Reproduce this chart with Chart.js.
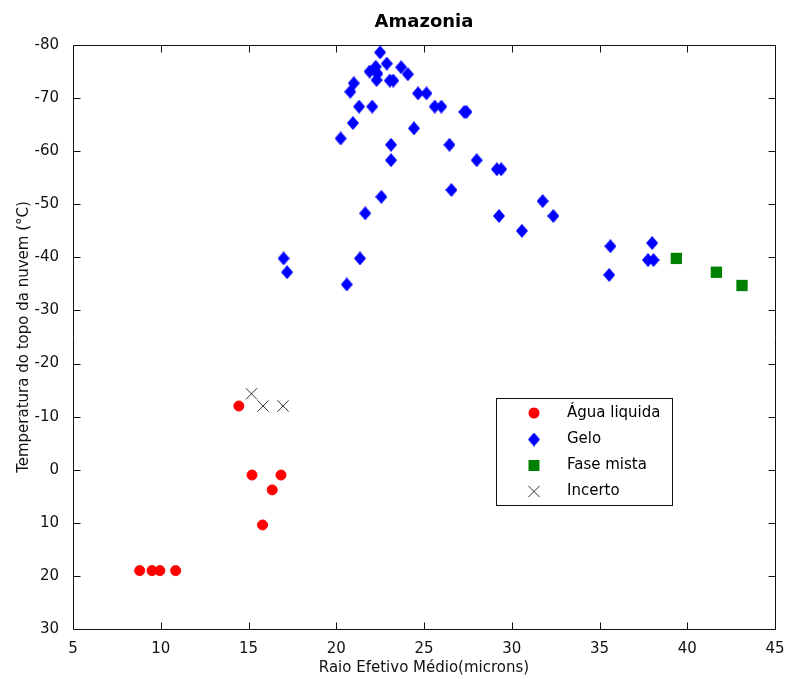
<!DOCTYPE html>
<html>
<head>
<meta charset="utf-8">
<title>Amazonia</title>
<script src="https://cdn.jsdelivr.net/npm/chart.js@4.4.1/dist/chart.umd.min.js"></script>
<style>
  html, body { margin: 0; padding: 0; background: #fff; }
  canvas { display: block; }
</style>
</head>
<body>
<canvas id="chart" width="788" height="679"></canvas>
<script>
// Raio efetivo médio (microns) e temperatura do topo da nuvem (°C), por fase
const aguaRaio = [8.8, 9.5, 9.95, 10.85, 14.45, 15.2, 16.85, 16.35, 15.8];
const aguaTemp = [19, 19, 19, 19, -12, 1, 1, 3.8, 10.4];

const geloRaio = [17.0, 17.2, 20.6, 21.35, 20.25, 20.95, 20.8, 21.0, 21.3, 22.05,
  21.9, 22.25, 22.35, 22.3, 22.5, 22.88, 23.05, 23.25, 23.7, 24.08,
  24.66, 25.14, 25.61, 25.99, 27.3, 27.42, 24.43, 23.12, 23.12, 26.45,
  28.0, 29.15, 29.4, 22.57, 21.65, 26.56, 29.27, 30.58, 31.76, 32.37,
  35.62, 35.55, 38.0, 37.76, 38.08];
const geloTemp = [-39.8, -37.2, -34.9, -39.8, -62.4, -65.3, -71.2, -72.8, -68.4, -68.4,
  -75.0, -75.9, -74.6, -73.4, -78.6, -76.5, -73.3, -73.3, -75.8, -74.5,
  -70.9, -70.9, -68.4, -68.4, -67.4, -67.4, -64.3, -61.2, -58.3, -61.2,
  -58.3, -56.6, -56.6, -51.4, -48.3, -52.7, -47.8, -45.0, -50.6, -47.8,
  -42.1, -36.7, -42.7, -39.5, -39.5];

const mistaRaio = [39.38, 41.66, 43.12];
const mistaTemp = [-39.8, -37.2, -34.7];

const incertoRaio = [15.17, 15.83, 16.97];
const incertoTemp = [-14.3, -12.0, -12.0];

const xTicks = [5, 10, 15, 20, 25, 30, 35, 40, 45];
const yTicks = [-80, -70, -60, -50, -40, -30, -20, -10, 0, 10, 20, 30];

const TITLE = 'Amazonia';
const FONT = 'DejaVu Sans';
const TICK_LEN = 7;

function toPoints(xs, ys) {
  return xs.map((v, i) => ({ x: v, y: ys[i] }));
}

// diamond marker, a bit taller than wide
function diamondMarker(w, h, color) {
  const c = document.createElement('canvas');
  c.width = w;
  c.height = h;
  const g = c.getContext('2d');
  g.fillStyle = color;
  g.beginPath();
  g.moveTo(w / 2, 0);
  g.lineTo(w, h / 2);
  g.lineTo(w / 2, h);
  g.lineTo(0, h / 2);
  g.closePath();
  g.fill();
  return c;
}

const diamond = diamondMarker(12, 14, '#0000ff');

const series = [
  { label: 'Água liquida', data: toPoints(aguaRaio, aguaTemp), pointStyle: 'circle',
    pointRadius: 5, pointBorderWidth: 1, pointBackgroundColor: '#ff0000', pointBorderColor: '#ff0000' },
  { label: 'Gelo', data: toPoints(geloRaio, geloTemp), pointStyle: diamond,
    pointRadius: 6, pointBackgroundColor: '#0000ff', pointBorderColor: '#0000ff' },
  { label: 'Fase mista', data: toPoints(mistaRaio, mistaTemp), pointStyle: 'rect',
    pointRadius: 8, pointBorderWidth: 0, pointBackgroundColor: '#008000', pointBorderColor: '#008000' },
  { label: 'Incerto', data: toPoints(incertoRaio, incertoTemp), pointStyle: 'crossRot',
    pointRadius: 8, pointBorderWidth: 1, pointBackgroundColor: '#333', pointBorderColor: '#333' }
];

// title centred over the plot box rather than the whole canvas
const titlePlugin = {
  id: 'plotTitle',
  afterDraw(chart) {
    const { ctx, chartArea: a } = chart;
    ctx.save();
    ctx.fillStyle = '#000';
    ctx.font = 'bold 18px "' + FONT + '"';
    ctx.textAlign = 'center';
    ctx.textBaseline = 'middle';
    ctx.fillText(TITLE, (a.left + a.right) / 2, 22);
    ctx.restore();
  }
};

// box around the axes with inward ticks on all four sides
const framePlugin = {
  id: 'frame',
  beforeDatasetsDraw(chart) {
    const { ctx, chartArea: a, scales: { x, y } } = chart;
    const L = Math.round(a.left) + 0.5, R = Math.round(a.right) + 0.5;
    const T = Math.round(a.top) + 0.5, B = Math.round(a.bottom) + 0.5;
    ctx.save();
    ctx.strokeStyle = '#111';
    ctx.lineWidth = 1;
    ctx.beginPath();
    ctx.rect(L, T, R - L, B - T);
    xTicks.forEach(v => {
      const px = Math.round(x.getPixelForValue(v)) + 0.5;
      ctx.moveTo(px, B); ctx.lineTo(px, B - TICK_LEN);
      ctx.moveTo(px, T); ctx.lineTo(px, T + TICK_LEN);
    });
    yTicks.forEach(v => {
      const py = Math.round(y.getPixelForValue(v)) + 0.5;
      ctx.moveTo(L, py); ctx.lineTo(L + TICK_LEN, py);
      ctx.moveTo(R, py); ctx.lineTo(R - TICK_LEN, py);
    });
    ctx.stroke();
    ctx.restore();
  }
};

// legend box placed inside the plot area
const legendBox = {
  id: 'legendBox',
  afterDraw(chart) {
    const { ctx } = chart;
    const left = 496.5, top = 398.5, w = 176, h = 107;
    const markX = 534, textX = 567;
    const rows = [413, 439.5, 465.5, 491.5];
    ctx.save();
    ctx.fillStyle = '#fff';
    ctx.fillRect(left, top, w, h);
    ctx.strokeStyle = '#111';
    ctx.lineWidth = 1;
    ctx.strokeRect(left, top, w, h);

    series.forEach((s, i) => {
      const cy = rows[i];
      ctx.fillStyle = s.pointBackgroundColor;
      ctx.strokeStyle = s.pointBorderColor;
      ctx.beginPath();
      if (s.pointStyle === 'circle') {
        ctx.arc(markX, cy, 5.5, 0, Math.PI * 2);
        ctx.fill();
      } else if (s.pointStyle === 'rect') {
        ctx.fillRect(markX - 5.5, cy - 5.5, 11, 11);
      } else if (s.pointStyle === 'crossRot') {
        const d = 5.6;
        ctx.moveTo(markX - d, cy - d); ctx.lineTo(markX + d, cy + d);
        ctx.moveTo(markX + d, cy - d); ctx.lineTo(markX - d, cy + d);
        ctx.stroke();
      } else {
        ctx.drawImage(s.pointStyle, markX - s.pointStyle.width / 2, cy - s.pointStyle.height / 2);
      }
      ctx.fillStyle = '#000';
      ctx.font = '15px "' + FONT + '"';
      ctx.textBaseline = 'middle';
      ctx.textAlign = 'left';
      ctx.fillText(s.label, textX, cy);
    });
    ctx.restore();
  }
};

new Chart(document.getElementById('chart'), {
  type: 'scatter',
  data: { datasets: series.map(s => Object.assign({ clip: false }, s)) },
  options: {
    responsive: false,
    animation: false,
    events: [],
    layout: { padding: { left: 0, right: 13, top: 45, bottom: 0 } },
    plugins: {
      legend: { display: false },
      tooltip: { enabled: false },
      title: { display: false }
    },
    scales: {
      x: {
        type: 'linear',
        min: 5,
        max: 45,
        grid: { display: false },
        border: { display: false },
        ticks: { stepSize: 5, padding: 3, color: '#111', font: { family: FONT, size: 15 } },
        title: {
          display: true,
          text: 'Raio Efetivo Médio(microns)',
          color: '#111',
          font: { family: FONT, size: 15 },
          padding: { top: 0, bottom: 2 }
        },
        afterFit(scale) { scale.height = 50; }
      },
      y: {
        type: 'linear',
        reverse: true,
        min: -80,
        max: 30,
        grid: { display: false },
        border: { display: false },
        ticks: { stepSize: 10, padding: 6, color: '#111', font: { family: FONT, size: 15 } },
        title: {
          display: true,
          text: 'Temperatura do topo da nuvem (°C)',
          color: '#111',
          font: { family: FONT, size: 15 },
          padding: { top: 15, bottom: 0 }
        },
        afterFit(scale) { scale.width = 73; }
      }
    }
  },
  plugins: [framePlugin, legendBox, titlePlugin]
});
</script>
</body>
</html>
